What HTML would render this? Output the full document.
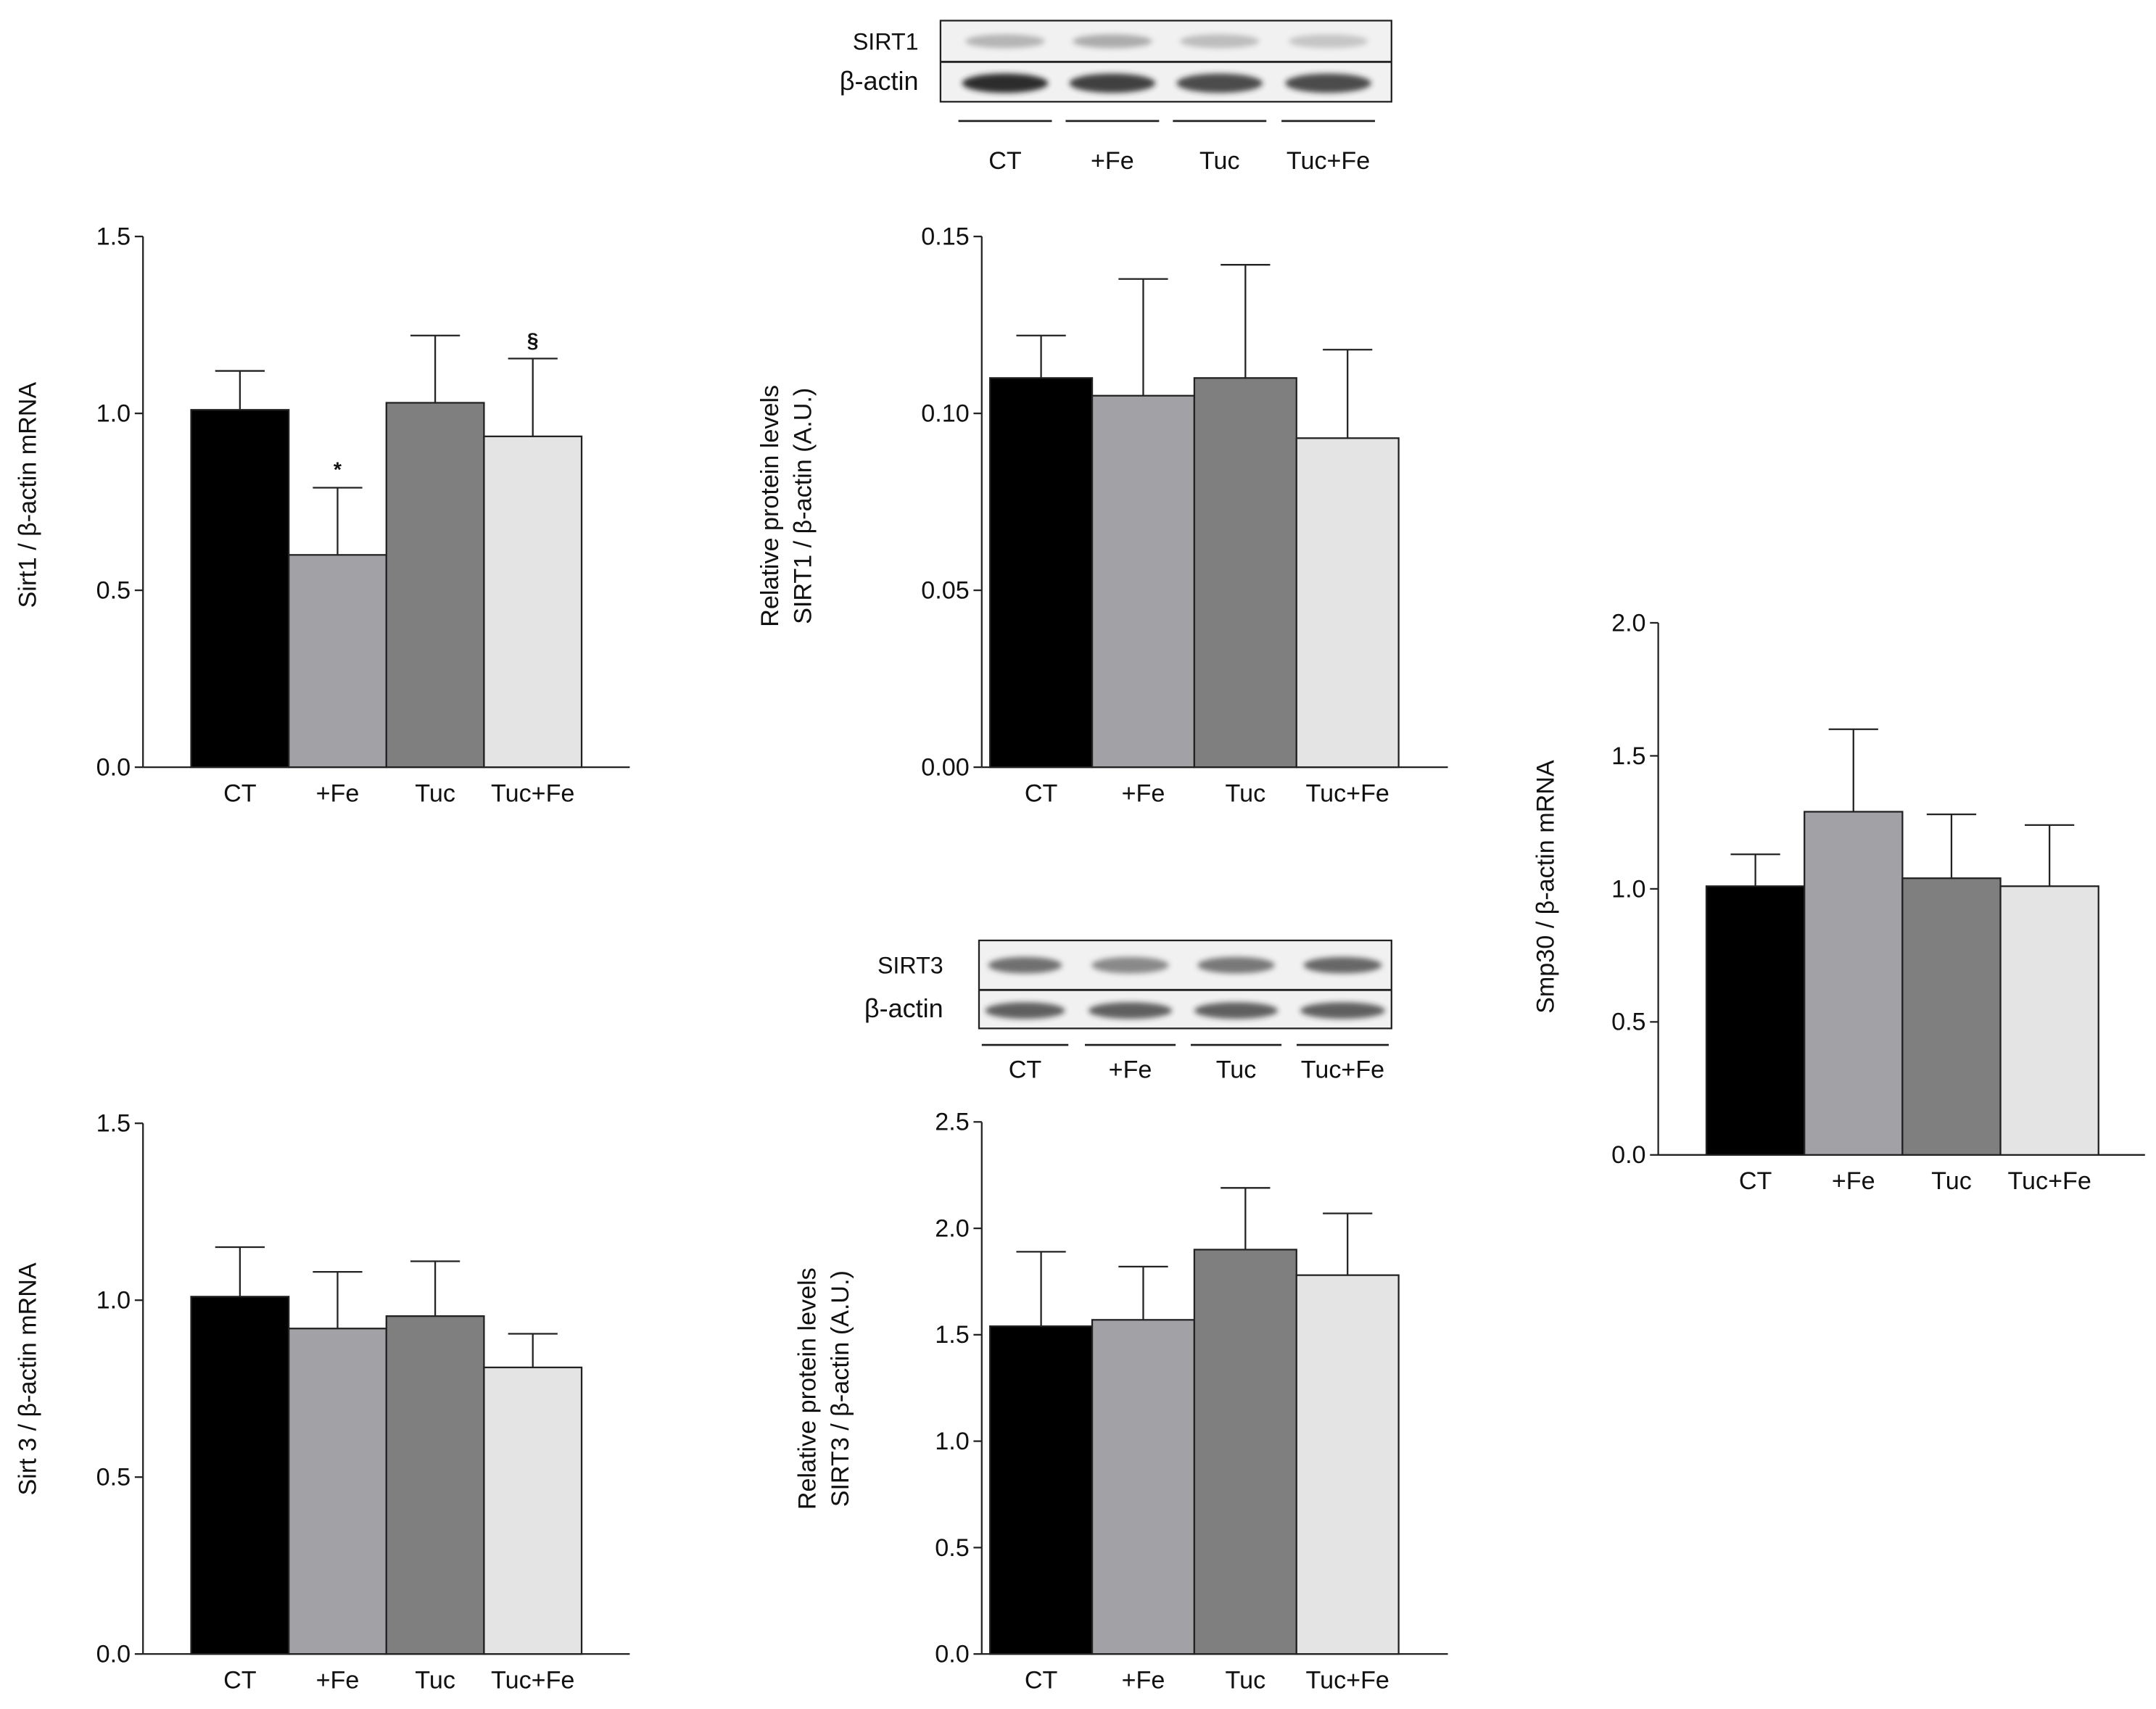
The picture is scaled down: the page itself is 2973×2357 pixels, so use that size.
<!DOCTYPE html>
<html><head><meta charset="utf-8"><style>
html,body{margin:0;padding:0;background:#fff}
svg{display:block}
text{font-family:"Liberation Sans",Arial,sans-serif;fill:#111}
</style></head><body>
<svg id="fig" width="2973" height="2357" viewBox="0 0 1568 1243" preserveAspectRatio="none" xmlns="http://www.w3.org/2000/svg">
<defs><filter id="blur" x="-20%" y="-50%" width="140%" height="200%"><feGaussianBlur stdDeviation="2"/></filter></defs>
</svg>
<script>
const categories = ["CT", "+Fe", "Tuc", "Tuc+Fe"];
const colors = ["#000000", "#a2a1a6", "#7f7f7f", "#e4e4e4"];
const sirt1Values = [1.01, 0.60, 1.03, 0.935];
const sirt1Errors = [1.12, 0.79, 1.22, 1.155];
const sirt1Ticks = ["0.0", "0.5", "1.0", "1.5"];
const sirt1Marks = ["", "*", "", "§"];
const sirt1ProtValues = [0.110, 0.105, 0.110, 0.093];
const sirt1ProtErrors = [0.122, 0.138, 0.142, 0.118];
const sirt1ProtTicks = ["0.00", "0.05", "0.10", "0.15"];
const smp30Values = [1.01, 1.29, 1.04, 1.01];
const smp30Errors = [1.13, 1.60, 1.28, 1.24];
const smp30Ticks = ["0.0", "0.5", "1.0", "1.5", "2.0"];
const sirt3Values = [1.01, 0.92, 0.955, 0.81];
const sirt3Errors = [1.15, 1.08, 1.11, 0.905];
const sirt3Ticks = ["0.0", "0.5", "1.0", "1.5"];
const sirt3ProtValues = [1.54, 1.57, 1.90, 1.78];
const sirt3ProtErrors = [1.89, 1.82, 2.19, 2.07];
const sirt3ProtTicks = ["0.0", "0.5", "1.0", "1.5", "2.0", "2.5"];

const svg = document.getElementById('fig');
const NS = "http://www.w3.org/2000/svg";
const FS = 18;
function mk(tag, attrs, parent) {
  const e = document.createElementNS(NS, tag);
  for (const k in attrs) e.setAttribute(k, attrs[k]);
  (parent || svg).appendChild(e);
  return e;
}
function txt(s, x, y, attrs, parent) {
  const t = mk('text', Object.assign({x: x, y: y}, attrs), parent);
  t.textContent = s;
  return t;
}

function drawChart(o) {
  const g = mk('g', {});
  
  
  const ymax = parseFloat(o.ticks[o.ticks.length - 1]);
  const yScale = v => o.y0 - (v / ymax) * (o.y0 - o.y1);
  const xScale = i => o.barX0 + i * o.barW;
  const ya = mk('line', {x1: o.ax, y1: o.y1, x2: o.ax, y2: o.y0, stroke: '#222', 'stroke-width': 1.2}, g);
  
  
  const xa = mk('line', {x1: o.ax, y1: o.y0, x2: o.axEnd, y2: o.y0, stroke: '#222', 'stroke-width': 1.2}, g);
  
  
  o.ticks.forEach(t => {
    const y = yScale(parseFloat(t));
    mk('line', {x1: o.ax - 6, y1: y, x2: o.ax, y2: y, stroke: '#222', 'stroke-width': 1.2}, g);
    const tl = txt(t, o.ax - 9, y + 6, {'text-anchor': 'end', 'font-size': FS}, g);
    
    
  });
  categories.forEach((c, i) => {
    const x = xScale(i), yv = yScale(o.values[i]), ye = yScale(o.errors[i]);
    const cx = x + o.barW / 2;
    const ln = mk('line', {x1: cx, y1: yv, x2: cx, y2: ye, stroke: '#222', 'stroke-width': 1.2}, g);
    
    
    mk('line', {x1: cx - 18, y1: ye, x2: cx + 18, y2: ye, stroke: '#222', 'stroke-width': 1.2}, g);
    const r = mk('rect', {x: x, y: yv, width: o.barW, height: o.y0 - yv, fill: colors[i], stroke: '#222', 'stroke-width': 1.2}, g);
    
    
    const xl = txt(c, cx, o.y0 + 25, {'text-anchor': 'middle', 'font-size': FS}, g);
    
    
    if (o.marks && o.marks[i]) {
      const m = txt(o.marks[i], cx, ye - 8, {'text-anchor': 'middle', 'font-size': 15, 'font-weight': 'bold'}, g);
      
      
    }
  });
  o.title.forEach((line, k) => {
    const tx = o.titleX + k * 24;
    const t = txt(line, tx, o.titleY, {'text-anchor': 'middle', 'font-size': FS, transform: 'rotate(-90 ' + tx + ' ' + o.titleY + ')'}, g);
    
    
  });
}

drawChart({name: 'sirt1-mrna-chart', ax: 104, axEnd: 458, y0: 558, y1: 172, barX0: 139, barW: 71, values: sirt1Values, errors: sirt1Errors, ticks: sirt1Ticks, marks: sirt1Marks, title: ["Sirt1 / β-actin mRNA"], titleX: 26, titleY: 360});
drawChart({name: 'sirt1-protein-chart', ax: 714, axEnd: 1053, y0: 558, y1: 172, barX0: 720, barW: 74.3, values: sirt1ProtValues, errors: sirt1ProtErrors, ticks: sirt1ProtTicks, title: ["Relative protein levels", "SIRT1 / β-actin (A.U.)"], titleX: 566, titleY: 368});
drawChart({name: 'smp30-mrna-chart', ax: 1206, axEnd: 1560, y0: 840, y1: 453, barX0: 1241, barW: 71.3, values: smp30Values, errors: smp30Errors, ticks: smp30Ticks, title: ["Smp30 / β-actin mRNA"], titleX: 1130, titleY: 645});
drawChart({name: 'sirt3-mrna-chart', ax: 104, axEnd: 458, y0: 1203, y1: 817, barX0: 139, barW: 71, values: sirt3Values, errors: sirt3Errors, ticks: sirt3Ticks, title: ["Sirt 3 / β-actin  mRNA"], titleX: 26, titleY: 1003});
drawChart({name: 'sirt3-protein-chart', ax: 714, axEnd: 1053, y0: 1203, y1: 816, barX0: 720, barW: 74.3, values: sirt3ProtValues, errors: sirt3ProtErrors, ticks: sirt3ProtTicks, title: ["Relative protein levels", "SIRT3 / β-actin (A.U.)"], titleX: 593, titleY: 1010});

function drawBlot(o) {
  const g = mk('g', {});
  
  
  mk('rect', {x: o.x0, y: o.y0, width: o.x1 - o.x0, height: o.y1 - o.y0, fill: '#f1f1f1', stroke: '#222', 'stroke-width': 1.2}, g);
  mk('line', {x1: o.x0, y1: o.ym, x2: o.x1, y2: o.ym, stroke: '#222', 'stroke-width': 1.5}, g);
  o.lanes.forEach((l, i) => {
    const cx = (l[0] + l[1]) / 2, w = (l[1] - l[0]) / 2;
    mk('ellipse', {cx: cx, cy: (o.y0 + o.ym) / 2, rx: w * 0.85, ry: o.topRy, fill: '#444', opacity: o.topOp[i], filter: 'url(#blur)'}, g);
    mk('ellipse', {cx: cx, cy: (o.ym + o.y1) / 2 + 1, rx: w * 0.92, ry: o.botRy, fill: '#222', opacity: o.botOp[i], filter: 'url(#blur)'}, g);
    mk('line', {x1: l[0], y1: o.uy, x2: l[1], y2: o.uy, stroke: '#222', 'stroke-width': 1.5}, g);
    const t = txt(categories[i], cx, o.uy + o.labOff, {'text-anchor': 'middle', 'font-size': FS}, g);
    
    
  });
  const a = txt(o.label, o.labelX, o.y0 + (o.ym - o.y0) / 2 + 6, {'text-anchor': 'end', 'font-size': 17}, g);
  
  
  const b = txt("β-actin", o.labelX, o.ym + (o.y1 - o.ym) / 2 + 6, {'text-anchor': 'end', 'font-size': 19}, g);
  
  
}
drawBlot({name: 'sirt1-western-blot', x0: 684, x1: 1012, y0: 15, ym: 45, y1: 74, uy: 88, labOff: 35, label: 'SIRT1', labelX: 668,
  lanes: [[697, 765], [775, 843], [853, 921], [932, 1000]], topRy: 5, botRy: 7, topOp: [0.35, 0.4, 0.3, 0.25], botOp: [0.95, 0.85, 0.8, 0.8]});
drawBlot({name: 'sirt3-western-blot', x0: 712, x1: 1012, y0: 684, ym: 720, y1: 748, uy: 760, labOff: 24, label: 'SIRT3', labelX: 686,
  lanes: [[714, 777], [789, 855], [866, 932], [943, 1010]], topRy: 6, botRy: 6, topOp: [0.75, 0.6, 0.7, 0.8], botOp: [0.7, 0.7, 0.7, 0.7]});
</script>
</body></html>
